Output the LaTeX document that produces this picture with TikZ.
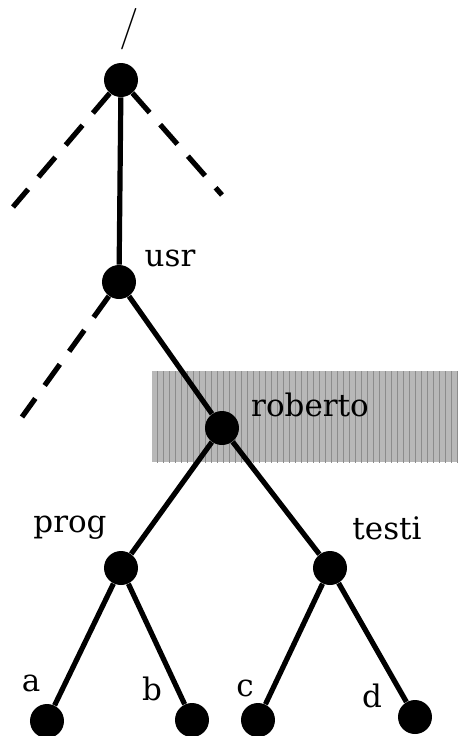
\documentclass[tikz,border=0pt]{standalone}
\usepackage{fontspec}
\setmainfont{DejaVu Serif}
\usepackage{tikz}
\usetikzlibrary{patterns}

\tikzset{
  dir/.style={circle, fill=black, inner sep=0pt, minimum size=17pt},
  lbl/.style={font=\fontsize{15.5}{18}\selectfont},
  link/.style={line width=2.6pt},
  more/.style={line width=2.6pt, dash pattern=on 13pt off 8pt}
}

\begin{document}
\begin{tikzpicture}[x=0.5pt, y=-0.5pt]
      \useasboundingbox (0,0) rectangle (458,736);

      % Draw highlighted band
      \fill[black!28] (152,371) rectangle (458,462);
      \fill[pattern=vertical lines, pattern color=black!45] (152,371) rectangle (458,462);

      % Draw directories
      \node[dir] (root) at (121,80) {};
      \node[dir] (usr) at (119,282) {};
      \node[dir] (roberto) at (222,428) {};
      \node[dir] (prog) at (121,568) {};
      \node[dir] (testi) at (330,568) {};
      \node[dir] (a) at (47,721) {};
      \node[dir] (b) at (192,720) {};
      \node[dir] (c) at (258,720) {};
      \node[dir] (d) at (415,717) {};

      % Free ends of hidden branches
      \coordinate (rootL) at (13,207);
      \coordinate (rootR) at (222,195);
      \coordinate (usrL) at (22,417);

      % Draw links
      \draw[link] (root) -- (usr);
      \draw[link] (usr) -- (roberto);
      \draw[link] (roberto) -- (prog);
      \draw[link] (roberto) -- (testi);
      \draw[link] (prog) -- (a);
      \draw[link] (prog) -- (b);
      \draw[link] (testi) -- (c);
      \draw[link] (testi) -- (d);
      \draw[more] (root) -- (rootL);
      \draw[more] (root) -- (rootR);
      \draw[more] (usr) -- (usrL);

      % Label directories
      \node[lbl, font=\fontsize{22}{24}\selectfont] (nroot) at (129,29) {$/$};
      \node[lbl] (nusr) at (170,258) {usr};
      \node[lbl] (nroberto) at (310,405) {roberto};
      \node[lbl] (nprog) at (70,528) {prog};
      \node[lbl] (ntesti) at (387,528) {testi};
      \node[lbl] (na) at (31,683) {a};
      \node[lbl] (nb) at (152,689) {b};
      \node[lbl] (nc) at (245,688) {c};
      \node[lbl] (nd) at (372,696) {d};
  \end{tikzpicture}
\end{document}
